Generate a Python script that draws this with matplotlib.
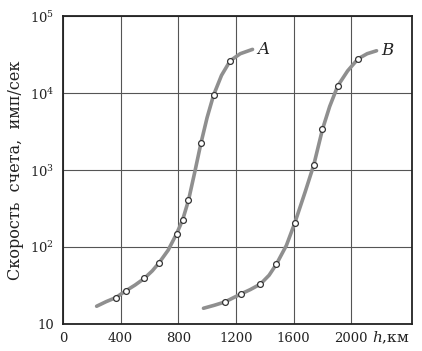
import matplotlib
matplotlib.use("Agg")
import matplotlib.pyplot as plt
from matplotlib.ticker import FixedLocator, FixedFormatter

plt.rcParams['font.family'] = ['DejaVu Serif']
plt.rcParams['mathtext.fontset'] = 'dejavuserif'

# Measured points (markers)
a_h = [367, 437, 564, 666, 788, 830, 871, 957, 1045, 1160]
a_rate = [22, 27, 39, 62, 148, 224, 404, 2220, 9420, 26300]
b_h = [1123, 1234, 1370, 1481, 1608, 1740, 1800, 1906, 2047]
b_rate = [19.3, 24.5, 33, 60, 205, 1170, 3380, 12400, 27900]

# Smooth curves
a_curve_h = [234, 300, 367, 437, 500, 564, 620, 666, 730, 788, 830, 871, 915, 957, 1000, 1045, 1100, 1160, 1230, 1315]
a_curve_rate = [17, 19.5, 22, 27, 32, 39, 49, 62, 91, 148, 224, 404, 950, 2220, 4800, 9420, 17000, 26300, 32500, 37000]
b_curve_h = [975, 1050, 1123, 1234, 1300, 1370, 1430, 1481, 1550, 1608, 1680, 1740, 1800, 1850, 1906, 1975, 2047, 2110, 2175]
b_curve_rate = [16, 17.5, 19.3, 24.5, 28, 33, 43, 60, 105, 205, 520, 1170, 3380, 6700, 12400, 19500, 27900, 32500, 35500]

x_ticks = [0, 400, 800, 1200, 1600, 2000]
y_ticks = [10, 100, 1000, 10000, 100000]
y_labels = ['10', '$10^2$', '$10^3$', '$10^4$', '$10^5$']

fig = plt.figure(figsize=(4.22, 3.51), dpi=100)
ax = fig.add_axes([0.149, 0.077, 0.827, 0.877])
ax.set_yscale('log')
ax.set_xlim(0, 2420)
ax.set_ylim(10, 100000)

ax.xaxis.set_major_locator(FixedLocator(x_ticks))
ax.yaxis.set_major_locator(FixedLocator(y_ticks))
ax.yaxis.set_major_formatter(FixedFormatter(y_labels))
ax.yaxis.set_minor_locator(FixedLocator([]))
ax.tick_params(length=0, labelsize=9.5, pad=6, colors='#222222')
ax.grid(True, color='#555555', linewidth=0.8)
for s in ax.spines.values():
    s.set_linewidth(1.3)
    s.set_color('#222222')

line_col = '#8f8f8f'
ax.plot(a_curve_h, a_curve_rate, color=line_col, lw=2.6, solid_capstyle='round', zorder=3)
ax.plot(b_curve_h, b_curve_rate, color=line_col, lw=2.6, solid_capstyle='round', zorder=3)
mk = dict(linestyle='none', marker='o', ms=4.2, mfc='white', mec='#333333', mew=0.9, zorder=4)
ax.plot(a_h, a_rate, **mk)
ax.plot(b_h, b_rate, **mk)

ax.text(1345, 37000, 'A', style='italic', fontsize=12, va='center', ha='left', color='#222222')
ax.text(2205, 35500, 'B', style='italic', fontsize=12, va='center', ha='left', color='#222222')

ax.set_ylabel('Скорость  счета,  имп/сек', fontsize=11.5, color='#222222', labelpad=4)
fig.text(0.882, 0.037, '$h$,км', fontsize=11, color='#222222', va='center', ha='left')

fig.savefig('out.png', dpi=100, facecolor='white')
